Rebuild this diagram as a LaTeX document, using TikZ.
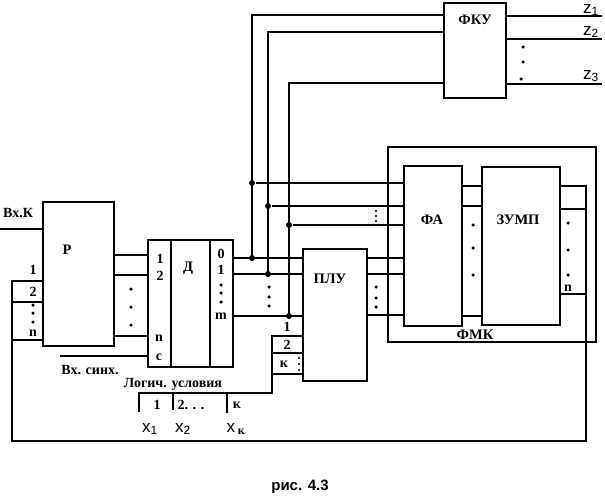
\documentclass[tikz,border=0pt]{standalone}
\usepackage{fontspec}
\setmainfont{Liberation Serif}
\setsansfont{Liberation Sans}
\begin{document}
\begin{tikzpicture}[x=1pt,y=-1pt,line width=1.5pt,
  box/.style={draw,inner sep=0pt,line width=1.5pt},
  lbl/.style={font=\bfseries\fontsize{14}{14}\selectfont,inner sep=0pt},
  blbl/.style={font=\bfseries\fontsize{14.5}{14.5}\selectfont,inner sep=0pt},
  slbl/.style={font=\sffamily\fontsize{17}{17}\selectfont,inner sep=0pt},
  capt/.style={font=\sffamily\bfseries\fontsize{15}{15}\selectfont,inner sep=0pt},
  dot/.style={circle,fill,inner sep=0pt,minimum size=3.5pt},
  sdot/.style={circle,fill,inner sep=0pt,minimum size=2.3pt},
  junc/.style={circle,fill,inner sep=0pt,minimum size=6pt}]
\fill[white] (0,0) rectangle (605,503);
\useasboundingbox (0,0) rectangle (605,503);

% blocks
\node[box,minimum width=71pt,minimum height=144pt] (R) at (78.5,274) {};
\node[box,minimum width=85pt,minimum height=127pt] (D) at (190.5,303.5) {};
\draw (171,240) -- (171,367) (210,240) -- (210,367);
\node[box,minimum width=64pt,minimum height=132pt] (P) at (335,315) {};
\node[box,minimum width=208pt,minimum height=195pt] (M) at (492,244.5) {};
\node[box,minimum width=58pt,minimum height=160pt] (A) at (433,246) {};
\node[box,minimum width=78pt,minimum height=158pt] (Z) at (521,246) {};
\node[box,minimum width=62pt,minimum height=95pt] (F) at (475,50.5) {};

% block labels
\node[blbl] (tR) at (67,250) {Р};
\node[blbl] (tD) at (188,268) {Д};
\node[blbl] (tP) at (330,279) {ПЛУ};
\node[blbl] (tA) at (432,220) {ФА};
\node[blbl] (tZ) at (518,220) {ЗУМП};
\node[blbl] (tM) at (475,335) {ФМК};
\node[blbl] (tF) at (475,20) {ФКУ};

% junction coordinates
\coordinate (ja) at (252,258);
\coordinate (jb) at (268,274);
\coordinate (jc) at (289,316);
\node[junc] (ja1) at (252,183) {};
\node[junc] (jb1) at (268,206) {};
\node[junc] (jc1) at (289,225) {};
\node[junc] (ja2) at (ja) {};
\node[junc] (jb2) at (jb) {};
\node[junc] (jc2) at (jc) {};

% D outputs to PLU
\draw (D.east |- ja) -- (P.west |- ja);
\draw (D.east |- jb) -- (P.west |- jb);
\draw (D.east |- jc) -- (P.west |- jc);
% buses up to FKU
\draw (F.west |- 0,15) -| (ja);
\draw (F.west |- 0,32) -| (jb);
\draw (F.west |- 0,83) -| (jc);
% branches to FA
\draw (ja1) -- (A.west |- ja1);
\draw (jb1) -- (A.west |- jb1);
\draw (jc1) -- (A.west |- jc1);
% PLU to FA
\draw (P.east |- 0,258) -- (A.west |- 0,258);
\draw (P.east |- 0,274) -- (A.west |- 0,274);
\draw (P.east |- 0,315) -- (A.west |- 0,315);
% FA to ZUMP
\draw (A.east |- 0,186) -- (Z.west |- 0,186);
\draw (A.east |- 0,206) -- (Z.west |- 0,206);
\draw (A.east |- 0,316) -- (Z.west |- 0,316);
% ZUMP feedback loop
\coordinate (fb) at (586,186);
\coordinate (lc) at (12,281);
\draw (Z.east |- fb) -- (fb) -- (586,441) -- (12,441) -- (lc) -- (R.west |- lc);
\draw (Z.east |- 0,209) -- (586,209);
\draw (Z.east |- 0,294) -- (586,294);
\draw (12,302) -- (R.west |- 0,302);
\draw (12,340) -- (R.west |- 0,340);
% R inputs / outputs
\coordinate (vk) at (0,229);
\draw (vk) -- (R.west |- vk);
\draw (R.east |- 0,255) -- (D.west |- 0,255);
\draw (R.east |- 0,275) -- (D.west |- 0,275);
\draw (R.east |- 0,336) -- (D.west |- 0,336);
\coordinate (vs) at (60,356);
\draw (vs) -- (D.west |- vs);
% PLU logic inputs
\coordinate (lu) at (272,336);
\draw (P.west |- lu) -- (lu) -- (272,393) -- (139,393) -- (139,412);
\draw (P.west |- 0,353) -- (272,353);
\draw (P.west |- 0,374) -- (272,374);
\draw (173,393) -- (173,410);
\draw (227,393) -- (227,413);
% FKU outputs
\draw (F.east |- 0,16) -- (602,16);
\draw (F.east |- 0,39) -- (602,39);
\draw (F.east |- 0,84) -- (602,84);

% small labels
\node[lbl] (vkl) at (18,213) {Вх.К};
\node[lbl] (l1) at (33,270) {1};
\node[lbl] (l2) at (33,292) {2};
\node[lbl] (ln) at (33,333) {n};
\node[lbl] (d1) at (160,259) {1};
\node[lbl] (d2) at (160,276) {2};
\node[lbl] (dn) at (159,338) {n};
\node[lbl] (dc) at (159,357) {c};
\node[lbl] (o0) at (221,254) {0};
\node[lbl] (o1) at (221,270) {1};
\node[lbl] (om) at (221,316) {m};
\node[lbl] (p1) at (287,327) {1};
\node[lbl] (p2) at (287,345) {2};
\node[lbl] (pk) at (284,364) {к};
\node[lbl] (zn) at (568,288) {n};
\node[lbl] (vsl) at (90,370) {Вх. синх.};
\node[lbl] (lu0) at (173,384) {Логич. условия};
\node[lbl] (c1) at (157,405) {1};
\node[lbl] (c2) at (191,405) {2. . .};
\node[lbl] (ck) at (237,405) {к};
\node[slbl] (x1) at (150,429) {x\textsubscript{1}};
\node[slbl] (x2) at (183,429) {x\textsubscript{2}};
\node[slbl] (xk) at (236,429) {x\,\textsubscript{\rmfamily\bfseries к}};
\node[slbl] (z1) at (591,10) {z\textsubscript{1}};
\node[slbl] (z2) at (591,32) {z\textsubscript{2}};
\node[slbl] (z3) at (591,76) {z\textsubscript{3}};
\node[capt] (cap) at (300,487) {рис. 4.3};

% dots
\foreach \i/\x/\y in {1/33/305,2/33/313,3/33/322,
  4/131/289,5/131/307,6/131/325,
  7/221/285,8/221/293,9/221/302,
  10/269/287,11/269/297,12/269/306,
  13/376/287,14/376/298,15/376/307,
  16/473/225,17/473/248,18/473/275,
  19/568/223,20/568/250,21/568/275,
  22/523/47,23/523/62,24/521/79}
  \node[dot] (dt\i) at (\x,\y) {};
\foreach \i/\x/\y in {1/376/211,2/376/216,3/376/221,4/299/358,5/299/364,6/299/370}
  \node[sdot] (sd\i) at (\x,\y) {};
\end{tikzpicture}
\end{document}
